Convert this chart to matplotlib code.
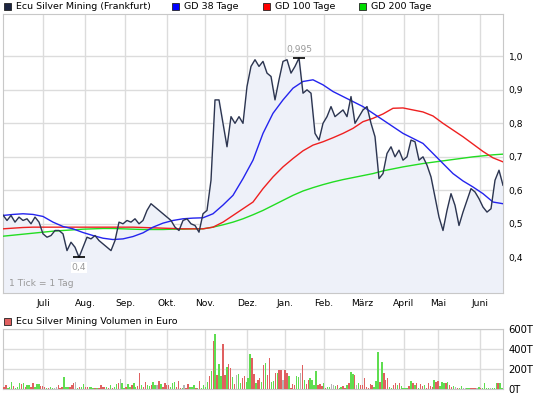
import matplotlib
matplotlib.use("Agg")
import matplotlib.pyplot as plt
from matplotlib.patches import Rectangle
import numpy as np

# trading-day index of each month start
month_pos = [21, 43, 64, 86, 106, 128, 148, 168, 188, 210, 228, 250]
month_labels = ["Juli", "Aug.", "Sep.", "Okt.", "Nov.", "Dez.", "Jan.", "Feb.",
                "März", "April", "Mai", "Juni"]
n_days = 262

# price, sampled about every 2 trading days
price = [0.526, 0.51, 0.525, 0.505, 0.52, 0.51, 0.515, 0.50, 0.52, 0.505,
         0.47, 0.46, 0.465, 0.48, 0.48, 0.47, 0.42, 0.445, 0.43, 0.40,
         0.43, 0.46, 0.455, 0.465, 0.45, 0.44, 0.43, 0.42, 0.45, 0.505,
         0.50, 0.51, 0.505, 0.515, 0.50, 0.51, 0.54, 0.56, 0.55, 0.54,
         0.53, 0.52, 0.51, 0.49, 0.48, 0.51, 0.515, 0.50, 0.495, 0.475,
         0.53, 0.54, 0.63, 0.87, 0.87, 0.80, 0.73, 0.82, 0.80, 0.82,
         0.80, 0.91, 0.97, 0.99, 0.97, 0.985, 0.95, 0.94, 0.87, 0.93,
         0.985, 0.99, 0.95, 0.97, 0.995, 0.89, 0.90, 0.89, 0.77, 0.75,
         0.80, 0.82, 0.85, 0.82, 0.83, 0.84, 0.82, 0.88, 0.80, 0.82,
         0.84, 0.85, 0.80, 0.76, 0.635, 0.65, 0.71, 0.73, 0.70, 0.72,
         0.69, 0.70, 0.75, 0.745, 0.69, 0.70, 0.675, 0.64, 0.58, 0.52,
         0.48, 0.54, 0.59, 0.555, 0.495, 0.535, 0.57, 0.605, 0.595, 0.575,
         0.55, 0.535, 0.545, 0.63, 0.66, 0.615]

# moving averages, sampled about every 5 trading days
gd38 = [0.525, 0.528, 0.530, 0.528, 0.522, 0.505, 0.492, 0.485, 0.474, 0.465,
        0.457, 0.453, 0.455, 0.462, 0.473, 0.49, 0.502, 0.51, 0.515, 0.517,
        0.518, 0.53, 0.556, 0.585, 0.635, 0.69, 0.77, 0.83, 0.87, 0.905,
        0.925, 0.93, 0.915, 0.895, 0.88, 0.865, 0.85, 0.83, 0.81, 0.79,
        0.77, 0.755, 0.74, 0.71, 0.68, 0.65, 0.628, 0.61, 0.59, 0.565, 0.56]
gd100 = [0.485, 0.487, 0.489, 0.49, 0.49, 0.49, 0.49, 0.49, 0.49, 0.49,
         0.49, 0.49, 0.49, 0.49, 0.489, 0.488, 0.487, 0.486, 0.485, 0.485,
         0.485, 0.49, 0.505, 0.525, 0.545, 0.565, 0.605, 0.64, 0.67, 0.695,
         0.718, 0.735, 0.745, 0.757, 0.77, 0.785, 0.805, 0.815, 0.828, 0.845,
         0.846, 0.84, 0.834, 0.822, 0.80, 0.78, 0.76, 0.738, 0.716, 0.697, 0.685]
gd200 = [0.463, 0.466, 0.469, 0.472, 0.475, 0.478, 0.48, 0.482, 0.484, 0.485,
         0.486, 0.486, 0.485, 0.484, 0.483, 0.483, 0.483, 0.484, 0.484, 0.485,
         0.485, 0.49, 0.497, 0.505, 0.515, 0.527, 0.54, 0.555, 0.57, 0.585,
         0.598, 0.608, 0.617, 0.625, 0.632, 0.638, 0.644, 0.65, 0.658, 0.664,
         0.67, 0.675, 0.68, 0.684, 0.688, 0.692, 0.696, 0.70, 0.703, 0.706, 0.708]

# daily volume in thousand euro, r = down, g = up, n = unchanged
volume = [27, 43, 17, 27, 77, 33, 10, 27, 63, 53, 60, 27, 43, 43, 27, 67, 27, 53, 53, 33,
          33, 27, 17, 10, 27, 17, 10, 27, 43, 10, 27, 127, 27, 27, 27, 40, 60, 70, 10, 27,
          20, 53, 27, 27, 27, 27, 10, 17, 17, 10, 43, 27, 27, 20, 17, 43, 17, 27, 53, 60,
          103, 67, 17, 27, 53, 27, 43, 67, 27, 33, 167, 43, 27, 73, 43, 37, 43, 77, 43, 43,
          80, 53, 27, 67, 43, 43, 27, 60,
          77, 27, 83, 17, 10, 43, 17, 53, 27, 27, 43, 17, 10, 83, 10, 43, 27, 77, 133, 183,
          483, 553, 143, 253, 133, 453, 143, 227, 253, 210, 120, 53, 143, 153, 67, 110, 133, 77, 110, 353,
          310, 153, 67, 93, 110, 77, 243, 267, 143, 310, 77, 83, 167, 167, 193, 193, 93, 193, 167, 133,
          10, 53, 43, 133, 120, 167, 243, 93, 53, 93, 110, 93, 43, 183, 43, 50, 33, 60, 10, 20,
          20, 53, 43, 33, 43, 17, 27, 33, 10, 43, 60, 177, 153,
          143, 43, 67, 43, 43, 117, 27, 17, 53, 43, 27, 87, 377, 77, 277, 167, 93, 110, 27, 17,
          43, 67, 43, 67, 33, 17, 10, 10, 33, 83, 67, 43, 60, 17, 50, 33, 43, 17, 67, 33,
          27, 93, 77, 83, 33, 73, 67, 67, 73, 43, 27, 33, 27, 17, 10, 33, 10, 10, 10, 10,
          10, 10, 17, 10, 27, 10, 10, 60, 10, 10, 10, 10, 10, 67, 60, 67, 10]
vol_dir = ("rrggg rgggr grggr rggg rrrgr ggnnr rrggg rrrng rggrr gggrg rrrrg rgrgg rngg rggrg grrgr "
           "rggrg gnrgr r"
           "rrggg rrrgn rrggg rgrgg ggrgr grggr rgrrg rnggr rgggr rgrrg rgrrg grgrr nrrgr rrggn rgrrg "
           "gggrr rgrgg nngrg "
           "grrgr gg rngrr rrrrr gggrg rrrgg rrgrg gggrg rgrgr rgrrr rgrrg ggrgr rgnrg gnngg rrrng rgggg ngggr")
vol_dir = vol_dir.replace(" ", "")

px_col = {"r": "#e06060", "g": "#5fdd50", "n": "#b4b4b4"}
grid_col = "#dcdcdc"
frame_col = "#c8c8c8"
fs = 6.6

fig = plt.figure(figsize=(5.45, 3.98), dpi=100)
ax = fig.add_axes([3 / 545, 1 - 293.3 / 398, 500 / 545, 279.3 / 398])
axv = fig.add_axes([3 / 545, 1 - 389.3 / 398, 500 / 545, 60 / 398])

x_price = np.linspace(0, n_days, len(price))
x_ma = np.linspace(0, n_days, len(gd38))

ax.fill_between(x_price, price, 0, color="#eef1f9", zorder=1)
ax.plot(x_ma, gd200, color="#22dd22", lw=1.0, zorder=3)
ax.plot(x_ma, gd100, color="#ee2020", lw=1.0, zorder=3)
ax.plot(x_ma, gd38, color="#2424ee", lw=1.0, zorder=4)
ax.plot(x_price, price, color="#2c3550", lw=1.0, zorder=5)

# high / low markers
i_max = int(np.argmax(price))
i_min = int(np.argmin(price))
ax.plot(x_price[i_max], price[i_max], marker="_", ms=8, mew=1.2, color="black", zorder=6)
ax.plot(x_price[i_min], price[i_min], marker="_", ms=8, mew=1.2, color="black", zorder=6)
ax.annotate("0,995", (x_price[i_max], price[i_max]), xytext=(0, 3), textcoords="offset points",
            ha="center", va="bottom", fontsize=fs, color="#999999")
ax.annotate("0,4", (x_price[i_min], price[i_min]), xytext=(0, -4), textcoords="offset points",
            ha="center", va="top", fontsize=fs, color="#999999",
            bbox=dict(boxstyle="square,pad=0.1", fc="white", ec="none"))
ax.text(0.012, 0.025, "1 Tick = 1 Tag", transform=ax.transAxes, fontsize=fs, color="#999999")

ax.set_xlim(0, n_days)
ax.set_ylim(0.2925, 1.1265)
ax.set_yticks([0.4, 0.5, 0.6, 0.7, 0.8, 0.9, 1.0])
ax.set_yticklabels(["0,4", "0,5", "0,6", "0,7", "0,8", "0,9", "1,0"])
ax.yaxis.tick_right()
ax.set_xticks(month_pos)
ax.set_xticklabels(month_labels)
ax.tick_params(length=0, labelsize=fs, colors="black")
ax.tick_params(axis="x", pad=4)
ax.tick_params(axis="y", pad=4)
ax.grid(True, color=grid_col, lw=1.0, zorder=0)
ax.set_axisbelow(True)
for s in ax.spines.values():
    s.set_color(frame_col)

x_vol = np.linspace(0.5, n_days - 0.5, len(volume))
cols = [px_col[c] for c in vol_dir[:len(volume)]]
cols += [px_col["g"]] * (len(volume) - len(cols))
axv.bar(x_vol, volume, width=0.75, color=cols, lw=0, antialiased=False, zorder=3)
axv.set_xlim(0, n_days)
axv.set_ylim(0, 600)
axv.set_yticks([0, 200, 400, 600])
axv.set_yticklabels(["0T", "200T", "400T", "600T"])
axv.yaxis.tick_right()
axv.set_xticks(month_pos)
axv.set_xticklabels([])
axv.tick_params(length=0, labelsize=fs + 0.6, colors="black", pad=4)
axv.grid(True, color=grid_col, lw=1.0, zorder=0)
axv.set_axisbelow(True)
for s in axv.spines.values():
    s.set_color(frame_col)

# legends on top of both panels
def legend_item(px, py, color, label):
    fig.add_artist(Rectangle((px / 545, 1 - (py + 3.5) / 398), 7 / 545, 7 / 398,
                             transform=fig.transFigure, fc=color, ec="#222222", lw=0.6))
    fig.text((px + 12) / 545, 1 - py / 398, label, fontsize=fs + 0.2, va="center", ha="left")

legend_item(3.5, 6.5, "#1c2541", "Ecu Silver Mining (Frankfurt)")
legend_item(172, 6.5, "#0000ff", "GD 38 Tage")
legend_item(263, 6.5, "#ff0000", "GD 100 Tage")
legend_item(359, 6.5, "#00dd00", "GD 200 Tage")
legend_item(3.5, 321.5, "#e06060", "Ecu Silver Mining Volumen in Euro")

fig.savefig("out.png", dpi=100)
